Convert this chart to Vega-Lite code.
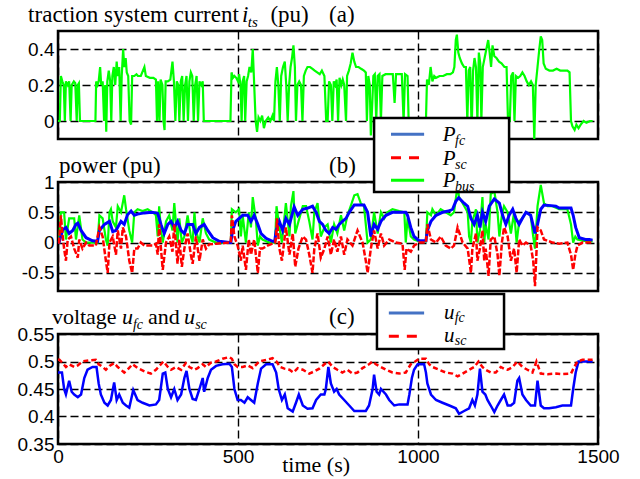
{
"$schema": "https://vega.github.io/schema/vega-lite/v6.json",
"bounds": "flush",
"spacing": 43,
"padding": {"left": 15, "top": 2, "right": 5, "bottom": 5},
"background": "white",
"config": {
 "view": {"stroke": "black", "strokeWidth": 2.5},
 "axis": {"grid": true, "gridColor": "black", "gridDash": [8,4], "gridWidth": 1.4, "gridOpacity": 1, "ticks": false, "domain": false, "labelFont": "Liberation Sans", "labelFontSize": 19, "labelColor": "black", "labelPadding": 4, "labelOverlap": false},
 "axisX": {"labelPadding": 3, "labelFlush": false}
},
"datasets": {
 "its": [{"t":0,"v":0},{"t":5,"v":0},{"t":8,"v":0.25},{"t":12,"v":0.22},{"t":16,"v":0.2},{"t":19,"v":0},{"t":22,"v":0.22},{"t":27,"v":0.2},{"t":31,"v":0.22},{"t":35,"v":0},{"t":38,"v":0.2},{"t":44,"v":0.22},{"t":48,"v":0.21},{"t":52,"v":0},{"t":55,"v":0.2},{"t":58,"v":0.21},{"t":61,"v":0},{"t":104,"v":0},{"t":106,"v":0.22},{"t":110,"v":0.2},{"t":113,"v":0.22},{"t":117,"v":0.3},{"t":120,"v":0.2},{"t":124,"v":0.22},{"t":128,"v":0},{"t":131,"v":0.2},{"t":134,"v":-0.06},{"t":137,"v":0.22},{"t":141,"v":0.28},{"t":145,"v":0.22},{"t":148,"v":0},{"t":151,"v":0.25},{"t":155,"v":0.3},{"t":159,"v":0.2},{"t":163,"v":0.33},{"t":166,"v":0.25},{"t":170,"v":0.3},{"t":174,"v":0},{"t":177,"v":0.25},{"t":181,"v":0.4},{"t":184,"v":0.3},{"t":188,"v":0.35},{"t":191,"v":0.27},{"t":195,"v":0.25},{"t":199,"v":0},{"t":203,"v":-0.02},{"t":206,"v":0.25},{"t":212,"v":0.25},{"t":218,"v":0.26},{"t":222,"v":0.25},{"t":230,"v":0.25},{"t":240,"v":0.3},{"t":244,"v":0.25},{"t":255,"v":0.24},{"t":265,"v":0.24},{"t":272,"v":0.23},{"t":275,"v":0},{"t":278,"v":0.22},{"t":282,"v":0},{"t":285,"v":0.23},{"t":290,"v":0.2},{"t":293,"v":0},{"t":296,"v":-0.05},{"t":299,"v":0.22},{"t":305,"v":0.22},{"t":312,"v":0.23},{"t":318,"v":0.33},{"t":322,"v":0.22},{"t":326,"v":0},{"t":330,"v":0.22},{"t":334,"v":0.2},{"t":337,"v":0},{"t":341,"v":0.22},{"t":345,"v":0.25},{"t":349,"v":0},{"t":353,"v":0.2},{"t":357,"v":0.25},{"t":361,"v":0},{"t":365,"v":0.22},{"t":369,"v":0.27},{"t":373,"v":0.25},{"t":377,"v":0},{"t":381,"v":0.2},{"t":385,"v":0.25},{"t":389,"v":0},{"t":393,"v":0.22},{"t":398,"v":0.2},{"t":402,"v":0.22},{"t":405,"v":0},{"t":409,"v":0},{"t":479,"v":0},{"t":482,"v":0.27},{"t":486,"v":0.24},{"t":490,"v":0.25},{"t":495,"v":0.24},{"t":500,"v":0.22},{"t":503,"v":0.26},{"t":507,"v":0.2},{"t":510,"v":0},{"t":513,"v":0.22},{"t":517,"v":0.25},{"t":520,"v":0},{"t":524,"v":0.22},{"t":528,"v":0.25},{"t":532,"v":0.3},{"t":537,"v":0.27},{"t":541,"v":0.4},{"t":545,"v":0.2},{"t":549,"v":0},{"t":553,"v":-0.06},{"t":557,"v":0.02},{"t":562,"v":0},{"t":567,"v":0.03},{"t":572,"v":-0.04},{"t":577,"v":0},{"t":584,"v":0.02},{"t":590,"v":0},{"t":596,"v":0.03},{"t":600,"v":0},{"t":604,"v":0.22},{"t":608,"v":0.3},{"t":612,"v":0.2},{"t":616,"v":0},{"t":620,"v":0.25},{"t":625,"v":0.3},{"t":630,"v":0.33},{"t":634,"v":0.2},{"t":638,"v":0},{"t":642,"v":0.2},{"t":646,"v":0.3},{"t":650,"v":0.35},{"t":654,"v":0.42},{"t":658,"v":0.3},{"t":661,"v":0},{"t":665,"v":0.2},{"t":670,"v":0.22},{"t":675,"v":0.2},{"t":679,"v":0},{"t":683,"v":0.25},{"t":688,"v":0.28},{"t":693,"v":0.3},{"t":700,"v":0.3},{"t":707,"v":0.29},{"t":713,"v":0.28},{"t":720,"v":0.27},{"t":727,"v":0.26},{"t":733,"v":0.28},{"t":740,"v":0.25},{"t":745,"v":0},{"t":749,"v":0},{"t":753,"v":0.22},{"t":758,"v":0.2},{"t":762,"v":0},{"t":766,"v":0.22},{"t":770,"v":0.2},{"t":774,"v":0.23},{"t":778,"v":0},{"t":782,"v":0.24},{"t":787,"v":0.2},{"t":791,"v":0.23},{"t":795,"v":0.2},{"t":800,"v":0},{"t":803,"v":0.25},{"t":808,"v":0.28},{"t":813,"v":0.32},{"t":818,"v":0.38},{"t":823,"v":0.33},{"t":828,"v":0.3},{"t":835,"v":0.3},{"t":842,"v":0.29},{"t":850,"v":0.28},{"t":855,"v":0.27},{"t":858,"v":0},{"t":862,"v":0.25},{"t":866,"v":0.2},{"t":869,"v":-0.08},{"t":873,"v":0.1},{"t":876,"v":0.25},{"t":880,"v":0.26},{"t":884,"v":0},{"t":888,"v":0.25},{"t":893,"v":0.26},{"t":897,"v":0},{"t":901,"v":0.25},{"t":910,"v":0.26},{"t":920,"v":0.26},{"t":930,"v":0.26},{"t":935,"v":0.1},{"t":939,"v":0.26},{"t":945,"v":0.26},{"t":955,"v":0.26},{"t":960,"v":0},{"t":964,"v":0.26},{"t":971,"v":0.25},{"t":974,"v":0},{"t":1022,"v":0},{"t":1025,"v":0.23},{"t":1030,"v":0.2},{"t":1035,"v":0.3},{"t":1040,"v":0.22},{"t":1045,"v":0.25},{"t":1050,"v":0.24},{"t":1060,"v":0.25},{"t":1070,"v":0.25},{"t":1080,"v":0.26},{"t":1090,"v":0.26},{"t":1097,"v":0.27},{"t":1101,"v":0.3},{"t":1105,"v":0.45},{"t":1108,"v":0.48},{"t":1112,"v":0.38},{"t":1116,"v":0.35},{"t":1122,"v":0.32},{"t":1128,"v":0.3},{"t":1133,"v":0.3},{"t":1137,"v":0},{"t":1141,"v":0.28},{"t":1145,"v":0.3},{"t":1149,"v":-0.05},{"t":1153,"v":0.28},{"t":1157,"v":0.35},{"t":1161,"v":0.3},{"t":1165,"v":0},{"t":1169,"v":0.38},{"t":1173,"v":0.32},{"t":1176,"v":0},{"t":1180,"v":0.3},{"t":1185,"v":0.35},{"t":1190,"v":0.4},{"t":1195,"v":0.45},{"t":1199,"v":0.38},{"t":1203,"v":0.3},{"t":1207,"v":0.42},{"t":1212,"v":0.36},{"t":1218,"v":0.35},{"t":1225,"v":0.33},{"t":1232,"v":0.32},{"t":1240,"v":0.3},{"t":1246,"v":0.3},{"t":1250,"v":0},{"t":1255,"v":0},{"t":1259,"v":0.25},{"t":1264,"v":0.27},{"t":1268,"v":0},{"t":1272,"v":0.25},{"t":1278,"v":0.24},{"t":1284,"v":0.25},{"t":1290,"v":0.27},{"t":1296,"v":0.25},{"t":1302,"v":0.22},{"t":1308,"v":0.2},{"t":1314,"v":0.22},{"t":1319,"v":0.2},{"t":1323,"v":-0.1},{"t":1327,"v":0.2},{"t":1332,"v":0.3},{"t":1337,"v":0.4},{"t":1341,"v":0.47},{"t":1345,"v":0.45},{"t":1349,"v":0.32},{"t":1355,"v":0.29},{"t":1365,"v":0.28},{"t":1375,"v":0.28},{"t":1385,"v":0.29},{"t":1395,"v":0.28},{"t":1405,"v":0.28},{"t":1415,"v":0.28},{"t":1421,"v":0.27},{"t":1425,"v":0},{"t":1429,"v":-0.03},{"t":1435,"v":-0.05},{"t":1440,"v":-0.02},{"t":1446,"v":-0.04},{"t":1452,"v":-0.02},{"t":1460,"v":0},{"t":1468,"v":-0.01},{"t":1478,"v":0},{"t":1485,"v":0}],
 "pfc": [{"t":0,"v":0},{"t":3,"v":0},{"t":13,"v":0.21},{"t":22,"v":0.25},{"t":31,"v":0.15},{"t":41,"v":0.2},{"t":50,"v":0.3},{"t":55,"v":0.32},{"t":64,"v":0.2},{"t":78,"v":0.08},{"t":96,"v":0.03},{"t":110,"v":0.02},{"t":115,"v":0.2},{"t":129,"v":0.3},{"t":143,"v":0.35},{"t":152,"v":0.18},{"t":161,"v":0.2},{"t":175,"v":0.35},{"t":184,"v":0.3},{"t":193,"v":0.46},{"t":203,"v":0.52},{"t":212,"v":0.45},{"t":221,"v":0.47},{"t":240,"v":0.49},{"t":260,"v":0.5},{"t":272,"v":0.49},{"t":277,"v":0.48},{"t":286,"v":0.3},{"t":295,"v":0.15},{"t":305,"v":0.3},{"t":314,"v":0.35},{"t":323,"v":0.25},{"t":332,"v":0.35},{"t":342,"v":0.2},{"t":351,"v":0.15},{"t":360,"v":0.3},{"t":374,"v":0.3},{"t":383,"v":0.15},{"t":393,"v":0.25},{"t":406,"v":0.3},{"t":416,"v":0.2},{"t":430,"v":0.08},{"t":448,"v":0.02},{"t":476,"v":0},{"t":480,"v":0},{"t":485,"v":0.2},{"t":494,"v":0.35},{"t":513,"v":0.45},{"t":527,"v":0.45},{"t":536,"v":0.35},{"t":545,"v":0.45},{"t":555,"v":0.3},{"t":564,"v":0.15},{"t":578,"v":0.07},{"t":596,"v":0.02},{"t":602,"v":0.02},{"t":606,"v":0.2},{"t":615,"v":0.35},{"t":624,"v":0.2},{"t":633,"v":0.4},{"t":643,"v":0.3},{"t":656,"v":0.59},{"t":666,"v":0.45},{"t":680,"v":0.55},{"t":694,"v":0.57},{"t":707,"v":0.6},{"t":717,"v":0.5},{"t":726,"v":0.35},{"t":735,"v":0.3},{"t":744,"v":0.2},{"t":753,"v":0.15},{"t":763,"v":0.25},{"t":772,"v":0.22},{"t":781,"v":0.3},{"t":790,"v":0.35},{"t":800,"v":0.4},{"t":809,"v":0.5},{"t":823,"v":0.62},{"t":837,"v":0.62},{"t":850,"v":0.62},{"t":860,"v":0.5},{"t":869,"v":0.1},{"t":878,"v":0.3},{"t":888,"v":0.22},{"t":897,"v":0.35},{"t":911,"v":0.45},{"t":929,"v":0.5},{"t":950,"v":0.5},{"t":966,"v":0.5},{"t":971,"v":0.45},{"t":980,"v":0.25},{"t":989,"v":0.1},{"t":1003,"v":0.03},{"t":1022,"v":0.03},{"t":1026,"v":0.2},{"t":1036,"v":0.35},{"t":1050,"v":0.45},{"t":1068,"v":0.5},{"t":1085,"v":0.52},{"t":1096,"v":0.55},{"t":1105,"v":0.68},{"t":1113,"v":0.74},{"t":1128,"v":0.65},{"t":1138,"v":0.6},{"t":1147,"v":0.4},{"t":1156,"v":0.3},{"t":1165,"v":0.45},{"t":1172,"v":0.25},{"t":1179,"v":0.5},{"t":1188,"v":0.35},{"t":1198,"v":0.6},{"t":1212,"v":0.72},{"t":1226,"v":0.65},{"t":1235,"v":0.45},{"t":1244,"v":0.3},{"t":1253,"v":0.45},{"t":1263,"v":0.55},{"t":1272,"v":0.4},{"t":1281,"v":0.3},{"t":1290,"v":0.4},{"t":1300,"v":0.5},{"t":1313,"v":0.45},{"t":1325,"v":0.15},{"t":1332,"v":0.3},{"t":1341,"v":0.55},{"t":1350,"v":0.62},{"t":1370,"v":0.61},{"t":1383,"v":0.6},{"t":1392,"v":0.57},{"t":1410,"v":0.57},{"t":1425,"v":0.57},{"t":1431,"v":0.45},{"t":1438,"v":0.25},{"t":1448,"v":0.08},{"t":1465,"v":0.05},{"t":1476,"v":0.05},{"t":1485,"v":0.04}],
 "psc": [{"t":0,"v":0},{"t":3,"v":0},{"t":8,"v":0.45},{"t":13,"v":0.1},{"t":17,"v":-0.1},{"t":22,"v":-0.3},{"t":27,"v":0.05},{"t":36,"v":0.1},{"t":45,"v":-0.1},{"t":55,"v":-0.25},{"t":59,"v":0.05},{"t":68,"v":-0.1},{"t":78,"v":0},{"t":87,"v":-0.05},{"t":105,"v":-0.05},{"t":115,"v":0.25},{"t":124,"v":0.1},{"t":133,"v":-0.3},{"t":138,"v":-0.5},{"t":143,"v":0},{"t":152,"v":0.1},{"t":161,"v":-0.2},{"t":166,"v":0.2},{"t":175,"v":-0.1},{"t":180,"v":0.25},{"t":189,"v":0.1},{"t":198,"v":-0.3},{"t":206,"v":-0.5},{"t":212,"v":-0.1},{"t":221,"v":-0.1},{"t":230,"v":0},{"t":240,"v":-0.05},{"t":263,"v":-0.05},{"t":272,"v":-0.02},{"t":277,"v":-0.2},{"t":281,"v":0.3},{"t":286,"v":-0.1},{"t":291,"v":-0.45},{"t":300,"v":0},{"t":309,"v":0.1},{"t":318,"v":-0.15},{"t":323,"v":0.3},{"t":332,"v":-0.35},{"t":337,"v":0.05},{"t":344,"v":-0.4},{"t":351,"v":-0.1},{"t":360,"v":0.15},{"t":369,"v":-0.2},{"t":374,"v":-0.35},{"t":383,"v":0.1},{"t":393,"v":-0.3},{"t":402,"v":0.05},{"t":411,"v":-0.1},{"t":420,"v":-0.03},{"t":439,"v":-0.02},{"t":476,"v":0},{"t":480,"v":0},{"t":483,"v":0.45},{"t":490,"v":0.1},{"t":499,"v":-0.05},{"t":508,"v":-0.3},{"t":513,"v":-0.05},{"t":522,"v":-0.45},{"t":530,"v":0.05},{"t":536,"v":-0.2},{"t":545,"v":0.05},{"t":555,"v":-0.5},{"t":561,"v":-0.1},{"t":568,"v":-0.1},{"t":582,"v":-0.05},{"t":603,"v":0},{"t":606,"v":0.1},{"t":608,"v":0.4},{"t":615,"v":-0.1},{"t":622,"v":-0.3},{"t":633,"v":0.25},{"t":643,"v":-0.2},{"t":652,"v":0.15},{"t":659,"v":-0.4},{"t":668,"v":-0.1},{"t":680,"v":0.1},{"t":689,"v":0.05},{"t":698,"v":-0.2},{"t":707,"v":-0.5},{"t":712,"v":-0.1},{"t":721,"v":0.15},{"t":730,"v":-0.25},{"t":740,"v":-0.1},{"t":749,"v":0.1},{"t":758,"v":-0.2},{"t":767,"v":0.05},{"t":776,"v":-0.15},{"t":786,"v":0.1},{"t":795,"v":-0.2},{"t":804,"v":0.05},{"t":818,"v":-0.05},{"t":832,"v":0.2},{"t":846,"v":0},{"t":855,"v":-0.3},{"t":860,"v":-0.5},{"t":869,"v":-0.1},{"t":878,"v":0.2},{"t":888,"v":-0.1},{"t":897,"v":0.15},{"t":906,"v":-0.05},{"t":920,"v":0.05},{"t":938,"v":0},{"t":957,"v":-0.02},{"t":963,"v":-0.45},{"t":968,"v":-0.1},{"t":980,"v":-0.15},{"t":989,"v":-0.05},{"t":1003,"v":0},{"t":1022,"v":0},{"t":1026,"v":0.3},{"t":1036,"v":0.05},{"t":1050,"v":0},{"t":1063,"v":0.1},{"t":1077,"v":-0.05},{"t":1091,"v":-0.1},{"t":1100,"v":-0.05},{"t":1110,"v":0.25},{"t":1124,"v":0},{"t":1138,"v":-0.1},{"t":1147,"v":-0.5},{"t":1151,"v":-0.1},{"t":1161,"v":0.15},{"t":1165,"v":-0.3},{"t":1172,"v":-0.1},{"t":1179,"v":0.2},{"t":1184,"v":-0.3},{"t":1188,"v":-0.1},{"t":1196,"v":-0.55},{"t":1202,"v":0.05},{"t":1212,"v":0.1},{"t":1221,"v":-0.2},{"t":1226,"v":-0.55},{"t":1233,"v":0},{"t":1239,"v":0.25},{"t":1249,"v":0.1},{"t":1258,"v":-0.3},{"t":1267,"v":-0.1},{"t":1274,"v":-0.5},{"t":1281,"v":0.05},{"t":1290,"v":-0.05},{"t":1300,"v":0},{"t":1313,"v":-0.05},{"t":1320,"v":-0.3},{"t":1325,"v":-0.72},{"t":1332,"v":0.25},{"t":1341,"v":0.2},{"t":1350,"v":0.05},{"t":1374,"v":0},{"t":1392,"v":-0.02},{"t":1415,"v":0},{"t":1425,"v":-0.2},{"t":1431,"v":-0.45},{"t":1437,"v":-0.2},{"t":1443,"v":-0.05},{"t":1457,"v":0},{"t":1476,"v":0},{"t":1485,"v":0}],
 "pbus": [{"t":0,"v":0},{"t":3,"v":0},{"t":8,"v":0.5},{"t":17,"v":0.5},{"t":22,"v":0.05},{"t":31,"v":0.4},{"t":45,"v":0.4},{"t":50,"v":0.05},{"t":59,"v":0.45},{"t":68,"v":0.05},{"t":78,"v":0},{"t":110,"v":0},{"t":115,"v":0.45},{"t":124,"v":0.4},{"t":133,"v":0.05},{"t":138,"v":-0.05},{"t":143,"v":0.5},{"t":147,"v":0.55},{"t":152,"v":0.35},{"t":161,"v":0.25},{"t":166,"v":0.6},{"t":175,"v":0.5},{"t":184,"v":0.78},{"t":189,"v":0.55},{"t":198,"v":0.2},{"t":206,"v":0},{"t":212,"v":0.5},{"t":221,"v":0.55},{"t":235,"v":0.52},{"t":249,"v":0.55},{"t":263,"v":0.5},{"t":272,"v":0.45},{"t":277,"v":0.1},{"t":281,"v":0.6},{"t":286,"v":0.2},{"t":291,"v":0},{"t":300,"v":0.35},{"t":309,"v":0.45},{"t":318,"v":0.2},{"t":323,"v":0.65},{"t":332,"v":0},{"t":337,"v":0.4},{"t":344,"v":0},{"t":351,"v":0.1},{"t":360,"v":0.45},{"t":369,"v":0.1},{"t":374,"v":0},{"t":379,"v":0.5},{"t":383,"v":0.2},{"t":393,"v":0},{"t":402,"v":0.4},{"t":411,"v":0.15},{"t":420,"v":0.05},{"t":439,"v":0},{"t":480,"v":0},{"t":483,"v":0.55},{"t":494,"v":0.5},{"t":503,"v":0.55},{"t":508,"v":0.1},{"t":513,"v":0.45},{"t":522,"v":0},{"t":530,"v":0.5},{"t":536,"v":0.25},{"t":541,"v":0.75},{"t":550,"v":0.35},{"t":555,"v":-0.05},{"t":561,"v":0.1},{"t":568,"v":0.05},{"t":587,"v":0},{"t":603,"v":0},{"t":607,"v":0.6},{"t":615,"v":0.25},{"t":622,"v":0},{"t":633,"v":0.65},{"t":643,"v":0.1},{"t":647,"v":0.6},{"t":654,"v":0.85},{"t":659,"v":0.15},{"t":668,"v":0.35},{"t":680,"v":0.6},{"t":689,"v":0.6},{"t":698,"v":0.35},{"t":707,"v":0.05},{"t":712,"v":0.5},{"t":721,"v":0.65},{"t":730,"v":0.1},{"t":740,"v":0.25},{"t":749,"v":0.3},{"t":758,"v":0},{"t":767,"v":0.3},{"t":776,"v":0.15},{"t":786,"v":0.45},{"t":795,"v":0.2},{"t":804,"v":0.45},{"t":813,"v":0.6},{"t":823,"v":0.78},{"t":832,"v":0.8},{"t":841,"v":0.65},{"t":850,"v":0.6},{"t":855,"v":0.3},{"t":860,"v":0},{"t":869,"v":0.05},{"t":878,"v":0.5},{"t":888,"v":0.15},{"t":897,"v":0.5},{"t":906,"v":0.4},{"t":915,"v":0.5},{"t":929,"v":0.55},{"t":948,"v":0.52},{"t":962,"v":0.5},{"t":966,"v":0},{"t":971,"v":0.4},{"t":980,"v":0.1},{"t":989,"v":0.05},{"t":1003,"v":0.02},{"t":1022,"v":0.02},{"t":1026,"v":0.5},{"t":1036,"v":0.45},{"t":1040,"v":0.55},{"t":1050,"v":0.45},{"t":1063,"v":0.55},{"t":1077,"v":0.5},{"t":1091,"v":0.45},{"t":1100,"v":0.5},{"t":1110,"v":0.95},{"t":1114,"v":0.75},{"t":1124,"v":0.65},{"t":1138,"v":0.5},{"t":1142,"v":0.1},{"t":1147,"v":0},{"t":1151,"v":0.35},{"t":1161,"v":0.55},{"t":1165,"v":0},{"t":1172,"v":0.2},{"t":1179,"v":0.75},{"t":1184,"v":0},{"t":1188,"v":0.3},{"t":1196,"v":0.05},{"t":1202,"v":0.8},{"t":1212,"v":0.85},{"t":1221,"v":0.5},{"t":1226,"v":0.1},{"t":1233,"v":0.45},{"t":1239,"v":0.6},{"t":1249,"v":0.5},{"t":1258,"v":0.15},{"t":1267,"v":0.5},{"t":1274,"v":0},{"t":1281,"v":0.35},{"t":1290,"v":0.4},{"t":1300,"v":0.5},{"t":1313,"v":0.45},{"t":1320,"v":0.1},{"t":1325,"v":-0.1},{"t":1332,"v":0.6},{"t":1341,"v":0.95},{"t":1350,"v":0.65},{"t":1360,"v":0.6},{"t":1374,"v":0.6},{"t":1392,"v":0.55},{"t":1406,"v":0.55},{"t":1415,"v":0.55},{"t":1425,"v":0.3},{"t":1431,"v":0},{"t":1437,"v":0.1},{"t":1443,"v":0.05},{"t":1457,"v":0.03},{"t":1476,"v":0.02},{"t":1485,"v":0.02}],
 "ufc": [{"t":0,"v":0.48},{"t":4,"v":0.48},{"t":11,"v":0.48},{"t":17,"v":0.45},{"t":22,"v":0.44},{"t":31,"v":0.465},{"t":38,"v":0.445},{"t":45,"v":0.44},{"t":55,"v":0.435},{"t":64,"v":0.44},{"t":73,"v":0.47},{"t":82,"v":0.485},{"t":96,"v":0.49},{"t":107,"v":0.49},{"t":113,"v":0.46},{"t":119,"v":0.44},{"t":129,"v":0.425},{"t":138,"v":0.42},{"t":147,"v":0.43},{"t":156,"v":0.462},{"t":163,"v":0.43},{"t":170,"v":0.44},{"t":180,"v":0.425},{"t":189,"v":0.42},{"t":198,"v":0.416},{"t":209,"v":0.448},{"t":221,"v":0.43},{"t":235,"v":0.425},{"t":254,"v":0.42},{"t":272,"v":0.422},{"t":281,"v":0.43},{"t":291,"v":0.478},{"t":298,"v":0.48},{"t":305,"v":0.45},{"t":314,"v":0.435},{"t":323,"v":0.45},{"t":332,"v":0.43},{"t":342,"v":0.44},{"t":351,"v":0.47},{"t":357,"v":0.483},{"t":365,"v":0.45},{"t":374,"v":0.432},{"t":383,"v":0.43},{"t":393,"v":0.45},{"t":402,"v":0.47},{"t":406,"v":0.445},{"t":416,"v":0.47},{"t":425,"v":0.485},{"t":439,"v":0.492},{"t":457,"v":0.495},{"t":476,"v":0.496},{"t":483,"v":0.49},{"t":490,"v":0.45},{"t":499,"v":0.43},{"t":508,"v":0.43},{"t":518,"v":0.425},{"t":527,"v":0.435},{"t":536,"v":0.43},{"t":545,"v":0.425},{"t":555,"v":0.46},{"t":564,"v":0.487},{"t":578,"v":0.495},{"t":596,"v":0.495},{"t":606,"v":0.48},{"t":613,"v":0.45},{"t":622,"v":0.43},{"t":630,"v":0.44},{"t":638,"v":0.415},{"t":652,"v":0.409},{"t":661,"v":0.425},{"t":669,"v":0.44},{"t":680,"v":0.42},{"t":693,"v":0.414},{"t":707,"v":0.415},{"t":717,"v":0.43},{"t":730,"v":0.44},{"t":740,"v":0.44},{"t":744,"v":0.45},{"t":751,"v":0.49},{"t":758,"v":0.46},{"t":767,"v":0.445},{"t":774,"v":0.45},{"t":781,"v":0.44},{"t":795,"v":0.43},{"t":809,"v":0.42},{"t":823,"v":0.41},{"t":837,"v":0.41},{"t":855,"v":0.41},{"t":864,"v":0.42},{"t":874,"v":0.45},{"t":878,"v":0.476},{"t":885,"v":0.445},{"t":892,"v":0.44},{"t":897,"v":0.45},{"t":911,"v":0.44},{"t":920,"v":0.43},{"t":934,"v":0.42},{"t":948,"v":0.422},{"t":971,"v":0.422},{"t":976,"v":0.44},{"t":983,"v":0.47},{"t":989,"v":0.485},{"t":999,"v":0.495},{"t":1017,"v":0.495},{"t":1022,"v":0.48},{"t":1026,"v":0.46},{"t":1036,"v":0.44},{"t":1050,"v":0.43},{"t":1068,"v":0.425},{"t":1087,"v":0.42},{"t":1105,"v":0.415},{"t":1114,"v":0.405},{"t":1128,"v":0.41},{"t":1142,"v":0.415},{"t":1151,"v":0.43},{"t":1158,"v":0.42},{"t":1165,"v":0.44},{"t":1172,"v":0.487},{"t":1179,"v":0.445},{"t":1187,"v":0.44},{"t":1193,"v":0.43},{"t":1202,"v":0.42},{"t":1212,"v":0.408},{"t":1221,"v":0.42},{"t":1230,"v":0.43},{"t":1239,"v":0.44},{"t":1249,"v":0.42},{"t":1258,"v":0.42},{"t":1267,"v":0.425},{"t":1276,"v":0.465},{"t":1281,"v":0.47},{"t":1290,"v":0.44},{"t":1300,"v":0.43},{"t":1313,"v":0.42},{"t":1325,"v":0.42},{"t":1332,"v":0.465},{"t":1341,"v":0.42},{"t":1350,"v":0.415},{"t":1364,"v":0.415},{"t":1383,"v":0.417},{"t":1401,"v":0.42},{"t":1425,"v":0.42},{"t":1431,"v":0.45},{"t":1438,"v":0.48},{"t":1446,"v":0.5},{"t":1476,"v":0.5},{"t":1485,"v":0.5}],
 "usc": [{"t":0,"v":0.503},{"t":4,"v":0.503},{"t":13,"v":0.497},{"t":22,"v":0.49},{"t":31,"v":0.495},{"t":45,"v":0.49},{"t":55,"v":0.493},{"t":68,"v":0.5},{"t":87,"v":0.502},{"t":105,"v":0.503},{"t":113,"v":0.495},{"t":124,"v":0.49},{"t":133,"v":0.485},{"t":143,"v":0.492},{"t":156,"v":0.497},{"t":166,"v":0.49},{"t":175,"v":0.485},{"t":184,"v":0.48},{"t":193,"v":0.485},{"t":207,"v":0.495},{"t":221,"v":0.488},{"t":240,"v":0.482},{"t":258,"v":0.478},{"t":272,"v":0.485},{"t":286,"v":0.495},{"t":293,"v":0.5},{"t":305,"v":0.49},{"t":314,"v":0.485},{"t":328,"v":0.49},{"t":342,"v":0.485},{"t":355,"v":0.497},{"t":365,"v":0.49},{"t":379,"v":0.485},{"t":388,"v":0.488},{"t":402,"v":0.495},{"t":411,"v":0.49},{"t":425,"v":0.498},{"t":439,"v":0.5},{"t":457,"v":0.505},{"t":476,"v":0.508},{"t":483,"v":0.505},{"t":490,"v":0.495},{"t":499,"v":0.49},{"t":513,"v":0.49},{"t":527,"v":0.493},{"t":541,"v":0.488},{"t":559,"v":0.5},{"t":578,"v":0.503},{"t":596,"v":0.506},{"t":607,"v":0.5},{"t":617,"v":0.49},{"t":629,"v":0.487},{"t":643,"v":0.485},{"t":654,"v":0.48},{"t":666,"v":0.488},{"t":680,"v":0.485},{"t":698,"v":0.478},{"t":712,"v":0.482},{"t":726,"v":0.487},{"t":740,"v":0.495},{"t":749,"v":0.5},{"t":753,"v":0.498},{"t":763,"v":0.49},{"t":776,"v":0.485},{"t":790,"v":0.48},{"t":804,"v":0.485},{"t":818,"v":0.478},{"t":832,"v":0.48},{"t":846,"v":0.488},{"t":864,"v":0.495},{"t":874,"v":0.5},{"t":883,"v":0.495},{"t":897,"v":0.49},{"t":911,"v":0.485},{"t":929,"v":0.48},{"t":948,"v":0.478},{"t":966,"v":0.48},{"t":980,"v":0.495},{"t":992,"v":0.5},{"t":1003,"v":0.505},{"t":1022,"v":0.505},{"t":1031,"v":0.495},{"t":1040,"v":0.49},{"t":1059,"v":0.485},{"t":1077,"v":0.48},{"t":1096,"v":0.478},{"t":1110,"v":0.473},{"t":1124,"v":0.478},{"t":1142,"v":0.485},{"t":1156,"v":0.49},{"t":1168,"v":0.5},{"t":1179,"v":0.49},{"t":1188,"v":0.485},{"t":1202,"v":0.48},{"t":1216,"v":0.48},{"t":1230,"v":0.49},{"t":1239,"v":0.487},{"t":1249,"v":0.485},{"t":1263,"v":0.49},{"t":1276,"v":0.5},{"t":1290,"v":0.49},{"t":1304,"v":0.485},{"t":1318,"v":0.48},{"t":1329,"v":0.5},{"t":1341,"v":0.478},{"t":1360,"v":0.477},{"t":1383,"v":0.478},{"t":1401,"v":0.477},{"t":1425,"v":0.478},{"t":1434,"v":0.49},{"t":1443,"v":0.5},{"t":1457,"v":0.503},{"t":1476,"v":0.503},{"t":1485,"v":0.503}]
},
"vconcat": [
 {
  "width": 540, "height": 108,
  "resolve": {"axis": {"x": "independent", "y": "independent"}},
  "layer": [
   {"data": {"name": "its"}, "mark": {"type": "line", "color": "#00ff00", "strokeWidth": 2.2},
    "encoding": {
     "x": {"field": "t", "type": "quantitative", "scale": {"domain": [0,1500], "nice": false}, "axis": {"values": [0,500,1000,1500], "labels": false, "title": null, "labelOverlap": false}},
     "y": {"field": "v", "type": "quantitative", "scale": {"domain": [-0.1,0.5], "nice": false, "zero": false}, "axis": {"values": [0,0.2,0.4], "title": null, "labelOverlap": false, "labelExpr": "'' + datum.value"}}
    }},
   {"data": {"values": [{}]}, "mark": {"type": "text", "font": "Liberation Serif", "fontSize": 23, "align": "left", "baseline": "alphabetic", "color": "black"},
    "encoding": {"x": {"datum": -83, "axis": null}, "y": {"datum": 0.55, "axis": null}, "text": {"value": "traction system current"}}},
   {"data": {"values": [{}]}, "mark": {"type": "text", "font": "Liberation Serif", "fontSize": 23, "fontStyle": "italic", "align": "left", "baseline": "alphabetic", "color": "black"},
    "encoding": {"x": {"datum": 511, "axis": null}, "y": {"datum": 0.55, "axis": null}, "text": {"value": "i"}}},
   {"data": {"values": [{}]}, "mark": {"type": "text", "font": "Liberation Serif", "fontSize": 15, "fontStyle": "italic", "align": "left", "baseline": "alphabetic", "dy": 5, "color": "black"},
    "encoding": {"x": {"datum": 527, "axis": null}, "y": {"datum": 0.55, "axis": null}, "text": {"value": "ts"}}},
   {"data": {"values": [{}]}, "mark": {"type": "text", "font": "Liberation Serif", "fontSize": 23, "align": "left", "baseline": "alphabetic", "color": "black"},
    "encoding": {"x": {"datum": 590, "axis": null}, "y": {"datum": 0.55, "axis": null}, "text": {"value": "(pu)"}}},
   {"data": {"values": [{}]}, "mark": {"type": "text", "font": "Liberation Serif", "fontSize": 23, "align": "left", "baseline": "alphabetic", "color": "black"},
    "encoding": {"x": {"datum": 753, "axis": null}, "y": {"datum": 0.55, "axis": null}, "text": {"value": "(a)"}}}
  ]
 },
 {
  "width": 540, "height": 109,
  "resolve": {"axis": {"x": "independent", "y": "independent"}},
  "layer": [
   {"data": {"name": "pbus"}, "mark": {"type": "line", "color": "#00ff00", "strokeWidth": 2.2},
    "encoding": {
     "x": {"field": "t", "type": "quantitative", "scale": {"domain": [0,1500], "nice": false}, "axis": {"values": [0,500,1000,1500], "labels": false, "title": null, "labelOverlap": false}},
     "y": {"field": "v", "type": "quantitative", "scale": {"domain": [-0.8,1], "nice": false, "zero": false}, "axis": {"values": [-0.5,0,0.5,1], "title": null, "labelOverlap": false, "labelExpr": "'' + datum.value"}}
    }},
   {"data": {"name": "pfc"}, "mark": {"type": "line", "color": "#0000ff", "strokeWidth": 3},
    "encoding": {"x": {"field": "t", "type": "quantitative", "axis": null}, "y": {"field": "v", "type": "quantitative", "axis": null}}},
   {"data": {"name": "psc"}, "mark": {"type": "line", "color": "#ff0000", "strokeWidth": 2.5, "strokeDash": [6,2]},
    "encoding": {"x": {"field": "t", "type": "quantitative", "axis": null}, "y": {"field": "v", "type": "quantitative", "axis": null}}},
   {"data": {"values": [{}]}, "mark": {"type": "text", "font": "Liberation Serif", "fontSize": 23, "align": "left", "baseline": "alphabetic", "color": "black"},
    "encoding": {"x": {"datum": 3, "axis": null}, "y": {"datum": 1.149, "axis": null}, "text": {"value": "power (pu)"}}},
   {"data": {"values": [{}]}, "mark": {"type": "text", "font": "Liberation Serif", "fontSize": 23, "align": "left", "baseline": "alphabetic", "color": "black"},
    "encoding": {"x": {"datum": 753, "axis": null}, "y": {"datum": 1.149, "axis": null}, "text": {"value": "(b)"}}},
   {"data": {"values": [{}]}, "mark": {"type": "rect", "fill": "white", "stroke": "black", "strokeWidth": 2.5},
    "encoding": {"x": {"datum": 878, "axis": null}, "x2": {"datum": 1253}, "y": {"datum": 2.057, "axis": null}, "y2": {"datum": 0.835}}},
   {"data": {"values": [{}]}, "mark": {"type": "rule", "color": "#4472c4", "strokeWidth": 3},
    "encoding": {"x": {"datum": 925, "axis": null}, "x2": {"datum": 1017}, "y": {"datum": 1.79, "axis": null}}},
   {"data": {"values": [{}]}, "mark": {"type": "rule", "color": "#ff0000", "strokeWidth": 3, "strokeDash": [10,8]},
    "encoding": {"x": {"datum": 925, "axis": null}, "x2": {"datum": 1017}, "y": {"datum": 1.40, "axis": null}}},
   {"data": {"values": [{}]}, "mark": {"type": "rule", "color": "#00ff00", "strokeWidth": 3},
    "encoding": {"x": {"datum": 925, "axis": null}, "x2": {"datum": 1017}, "y": {"datum": 1.03, "axis": null}}},
   {"data": {"values": [{}]}, "mark": {"type": "text", "font": "Liberation Serif", "fontSize": 21, "fontStyle": "italic", "align": "left", "baseline": "middle", "dy": 1, "color": "black"},
    "encoding": {"x": {"datum": 1069, "axis": null}, "y": {"datum": 1.79, "axis": null}, "text": {"value": "P"}}},
   {"data": {"values": [{}]}, "mark": {"type": "text", "font": "Liberation Serif", "fontSize": 21, "fontStyle": "italic", "align": "left", "baseline": "middle", "dy": 1, "color": "black"},
    "encoding": {"x": {"datum": 1069, "axis": null}, "y": {"datum": 1.40, "axis": null}, "text": {"value": "P"}}},
   {"data": {"values": [{}]}, "mark": {"type": "text", "font": "Liberation Serif", "fontSize": 21, "fontStyle": "italic", "align": "left", "baseline": "middle", "dy": 1, "color": "black"},
    "encoding": {"x": {"datum": 1069, "axis": null}, "y": {"datum": 1.03, "axis": null}, "text": {"value": "P"}}},
   {"data": {"values": [{}]}, "mark": {"type": "text", "font": "Liberation Serif", "fontSize": 14, "fontStyle": "italic", "align": "left", "baseline": "middle", "dy": 7, "color": "black"},
    "encoding": {"x": {"datum": 1103, "axis": null}, "y": {"datum": 1.79, "axis": null}, "text": {"value": "fc"}}},
   {"data": {"values": [{}]}, "mark": {"type": "text", "font": "Liberation Serif", "fontSize": 14, "fontStyle": "italic", "align": "left", "baseline": "middle", "dy": 7, "color": "black"},
    "encoding": {"x": {"datum": 1103, "axis": null}, "y": {"datum": 1.40, "axis": null}, "text": {"value": "sc"}}},
   {"data": {"values": [{}]}, "mark": {"type": "text", "font": "Liberation Serif", "fontSize": 14, "fontStyle": "italic", "align": "left", "baseline": "middle", "dy": 7, "color": "black"},
    "encoding": {"x": {"datum": 1103, "axis": null}, "y": {"datum": 1.03, "axis": null}, "text": {"value": "bus"}}}
  ]
 },
 {
  "width": 540, "height": 110,
  "resolve": {"axis": {"x": "independent", "y": "independent"}},
  "layer": [
   {"data": {"name": "ufc"}, "mark": {"type": "line", "color": "#0000ff", "strokeWidth": 2.5},
    "encoding": {
     "x": {"field": "t", "type": "quantitative", "scale": {"domain": [0,1500], "nice": false}, "axis": {"values": [0,500,1000,1500], "format": "d", "labelOverlap": false, "title": null}},
     "y": {"field": "v", "type": "quantitative", "scale": {"domain": [0.35,0.55], "nice": false, "zero": false}, "axis": {"values": [0.35,0.4,0.45,0.5,0.55], "title": null, "labelOverlap": false, "labelExpr": "'' + datum.value"}}
    }},
   {"data": {"name": "usc"}, "mark": {"type": "line", "color": "#ff0000", "strokeWidth": 2.5, "strokeDash": [5,3]},
    "encoding": {"x": {"field": "t", "type": "quantitative", "axis": null}, "y": {"field": "v", "type": "quantitative", "axis": null}}},
   {"data": {"values": [{}]}, "mark": {"type": "text", "font": "Liberation Serif", "fontSize": 22, "align": "center", "baseline": "alphabetic", "color": "black"},
    "encoding": {"x": {"datum": 717, "axis": null}, "y": {"datum": 0.299, "axis": null}, "text": {"value": "time (s)"}}},
   {"data": {"values": [{}]}, "mark": {"type": "text", "font": "Liberation Serif", "fontSize": 22, "align": "left", "baseline": "alphabetic", "color": "black"},
    "encoding": {"x": {"datum": -17, "axis": null}, "y": {"datum": 0.569, "axis": null}, "text": {"value": "voltage"}}},
   {"data": {"values": [{}]}, "mark": {"type": "text", "font": "Liberation Serif", "fontSize": 22, "fontStyle": "italic", "align": "left", "baseline": "alphabetic", "color": "black"},
    "encoding": {"x": {"datum": 178, "axis": null}, "y": {"datum": 0.569, "axis": null}, "text": {"value": "u"}}},
   {"data": {"values": [{}]}, "mark": {"type": "text", "font": "Liberation Serif", "fontSize": 14, "fontStyle": "italic", "align": "left", "baseline": "alphabetic", "dy": 5, "color": "black"},
    "encoding": {"x": {"datum": 208, "axis": null}, "y": {"datum": 0.569, "axis": null}, "text": {"value": "fc"}}},
   {"data": {"values": [{}]}, "mark": {"type": "text", "font": "Liberation Serif", "fontSize": 22, "align": "left", "baseline": "alphabetic", "color": "black"},
    "encoding": {"x": {"datum": 250, "axis": null}, "y": {"datum": 0.569, "axis": null}, "text": {"value": "and"}}},
   {"data": {"values": [{}]}, "mark": {"type": "text", "font": "Liberation Serif", "fontSize": 22, "fontStyle": "italic", "align": "left", "baseline": "alphabetic", "color": "black"},
    "encoding": {"x": {"datum": 350, "axis": null}, "y": {"datum": 0.569, "axis": null}, "text": {"value": "u"}}},
   {"data": {"values": [{}]}, "mark": {"type": "text", "font": "Liberation Serif", "fontSize": 14, "fontStyle": "italic", "align": "left", "baseline": "alphabetic", "dy": 5, "color": "black"},
    "encoding": {"x": {"datum": 381, "axis": null}, "y": {"datum": 0.569, "axis": null}, "text": {"value": "sc"}}},
   {"data": {"values": [{}]}, "mark": {"type": "text", "font": "Liberation Serif", "fontSize": 23, "align": "left", "baseline": "alphabetic", "color": "black"},
    "encoding": {"x": {"datum": 753, "axis": null}, "y": {"datum": 0.569, "axis": null}, "text": {"value": "(c)"}}},
   {"data": {"values": [{}]}, "mark": {"type": "rect", "fill": "white", "stroke": "black", "strokeWidth": 2.5},
    "encoding": {"x": {"datum": 886, "axis": null}, "x2": {"datum": 1239}, "y": {"datum": 0.6227, "axis": null}, "y2": {"datum": 0.5227}}},
   {"data": {"values": [{}]}, "mark": {"type": "rule", "color": "#4472c4", "strokeWidth": 3},
    "encoding": {"x": {"datum": 919, "axis": null}, "x2": {"datum": 1017}, "y": {"datum": 0.588, "axis": null}}},
   {"data": {"values": [{}]}, "mark": {"type": "rule", "color": "#ff0000", "strokeWidth": 3, "strokeDash": [10,8]},
    "encoding": {"x": {"datum": 919, "axis": null}, "x2": {"datum": 1017}, "y": {"datum": 0.546, "axis": null}}},
   {"data": {"values": [{}]}, "mark": {"type": "text", "font": "Liberation Serif", "fontSize": 21, "fontStyle": "italic", "align": "left", "baseline": "middle", "color": "black"},
    "encoding": {"x": {"datum": 1072, "axis": null}, "y": {"datum": 0.588, "axis": null}, "text": {"value": "u"}}},
   {"data": {"values": [{}]}, "mark": {"type": "text", "font": "Liberation Serif", "fontSize": 21, "fontStyle": "italic", "align": "left", "baseline": "middle", "color": "black"},
    "encoding": {"x": {"datum": 1072, "axis": null}, "y": {"datum": 0.546, "axis": null}, "text": {"value": "u"}}},
   {"data": {"values": [{}]}, "mark": {"type": "text", "font": "Liberation Serif", "fontSize": 14, "fontStyle": "italic", "align": "left", "baseline": "middle", "dy": 5, "color": "black"},
    "encoding": {"x": {"datum": 1102, "axis": null}, "y": {"datum": 0.588, "axis": null}, "text": {"value": "fc"}}},
   {"data": {"values": [{}]}, "mark": {"type": "text", "font": "Liberation Serif", "fontSize": 14, "fontStyle": "italic", "align": "left", "baseline": "middle", "dy": 5, "color": "black"},
    "encoding": {"x": {"datum": 1102, "axis": null}, "y": {"datum": 0.546, "axis": null}, "text": {"value": "sc"}}}
  ]
 }
]
}
